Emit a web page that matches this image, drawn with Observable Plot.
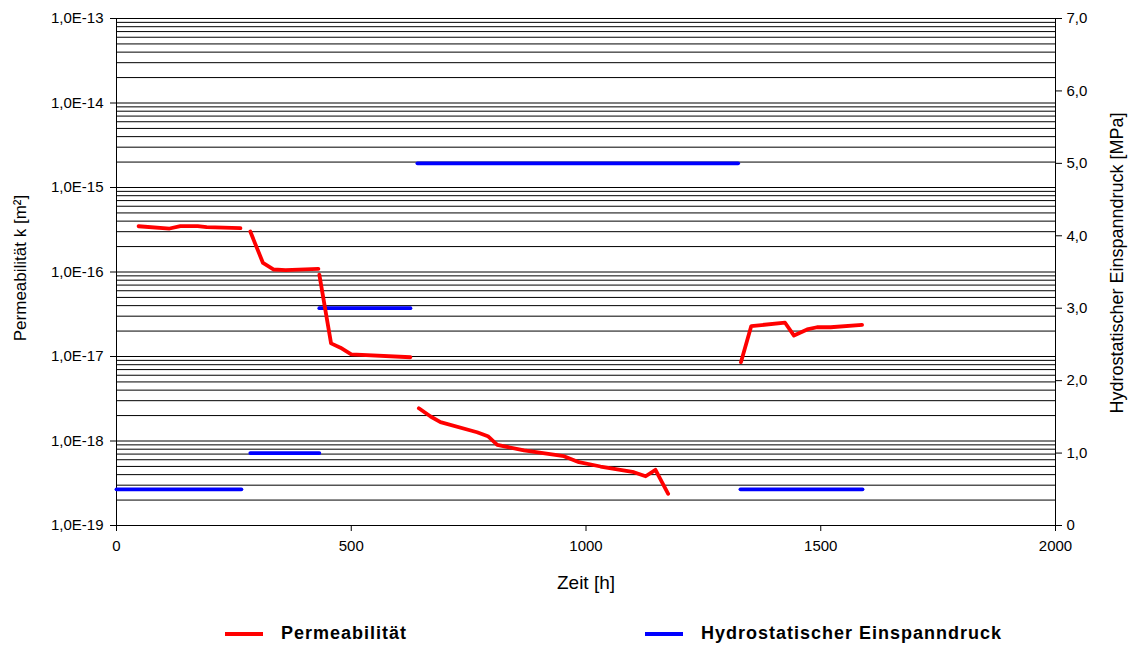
<!DOCTYPE html>
<html>
<head>
<meta charset="utf-8">
<script src="https://cdn.jsdelivr.net/npm/d3@7"></script>
<script src="https://cdn.jsdelivr.net/npm/@observablehq/plot@0.6"></script>
<style>
  body { margin: 0; background: #fff; font-family: "Liberation Sans", Arial, sans-serif; }
  #legend { position: relative; width: 1132px; height: 37px; }
  .item { position: absolute; top: 13px; display: flex; align-items: center; font-weight: bold; font-size: 18px; letter-spacing: 1px; color: #000; }
  .swatch { width: 38px; height: 4px; margin-right: 18px; }
</style>
</head>
<body>
<div id="chart"></div>
<div id="legend">
  <div class="item" style="left:225px"><span class="swatch" style="background:#ff0000"></span>Permeabilität</div>
  <div class="item" style="left:645px"><span class="swatch" style="background:#0000ff"></span>Hydrostatischer Einspanndruck</div>
</div>
<script>
// Permeability k [m²] over time, split into test stages (segment id)
const permHours = [47, 113, 136, 173, 192, 264,
                   285, 312, 335, 360, 430,
                   432, 457, 477, 500, 626,
                   644, 669, 690, 768, 791, 811, 868, 953, 985, 1031, 1102, 1127, 1148, 1175,
                   1330, 1352, 1424, 1443, 1471, 1492, 1521, 1588];
const permK = [3.48e-16, 3.27e-16, 3.5e-16, 3.5e-16, 3.39e-16, 3.3e-16,
               3.01e-16, 1.28e-16, 1.07e-16, 1.05e-16, 1.09e-16,
               9.3e-17, 1.43e-17, 1.27e-17, 1.06e-17, 9.8e-18,
               2.44e-18, 1.95e-18, 1.67e-18, 1.27e-18, 1.14e-18, 9.0e-19, 7.73e-19, 6.61e-19, 5.61e-19, 4.99e-19, 4.27e-19, 3.83e-19, 4.56e-19, 2.37e-19,
               8.57e-18, 2.29e-17, 2.51e-17, 1.77e-17, 2.09e-17, 2.22e-17, 2.22e-17, 2.37e-17];
const permSeg = [1, 1, 1, 1, 1, 1,
                 2, 2, 2, 2, 2,
                 3, 3, 3, 3, 3,
                 4, 4, 4, 4, 4, 4, 4, 4, 4, 4, 4, 4, 4, 4,
                 5, 5, 5, 5, 5, 5, 5, 5];

// Hydrostatic confining pressure [MPa]
const pressHours = [0, 266, 285, 432, 432, 626, 641, 1324, 1329, 1589];
const pressMPa = [0.5, 0.5, 1.0, 1.0, 3.0, 3.0, 5.0, 5.0, 0.5, 0.5];
const pressSeg = [1, 1, 2, 2, 3, 3, 4, 4, 5, 5];

// Axis ticks
const xTicks = [0, 500, 1000, 1500, 2000];
const kDecades = [-19, -18, -17, -16, -15, -14, -13];
const pTicks = [0, 1, 2, 3, 4, 5, 6, 7];

// The right axis (0–7 MPa) shares the log frame: map pressure onto the k scale
const kMinExp = -19, kMaxExp = -13, pMax = 7;
const pToK = p => Math.pow(10, kMinExp + p * (kMaxExp - kMinExp) / pMax);

const perm = permHours.map((h, i) => ({h, k: permK[i], seg: permSeg[i]}));
const press = pressHours.map((h, i) => ({h, k: pToK(pressMPa[i]), seg: pressSeg[i]}));

const gridValues = [];
for (let e = kMinExp; e < kMaxExp; e++) for (let m = 1; m <= 9; m++) gridValues.push(m * Math.pow(10, e));
gridValues.push(Math.pow(10, kMaxExp));

const fmtK = k => "1,0E" + Math.round(Math.log10(k));
const fmtP = p => p === 0 ? "0" : p.toFixed(1).replace(".", ",");

const chart = Plot.plot({
  width: 1132,
  height: 610,
  marginLeft: 116,
  marginRight: 77,
  marginTop: 18,
  marginBottom: 85,
  style: {fontFamily: "'Liberation Sans', Arial, sans-serif", fontSize: "15px", color: "#000", background: "#fff"},
  x: {domain: [0, 2000]},
  y: {type: "log", domain: [1e-19, 1e-13]},
  marks: [
    Plot.ruleY(gridValues, {stroke: "#000", strokeWidth: 1}),
    Plot.frame({stroke: "#000"}),
    Plot.axisX(xTicks, {tickSize: 6, tickPadding: 9, tickFormat: d => String(d), label: null, fontSize: 15}),
    Plot.axisY(kDecades.map(e => Math.pow(10, e)), {anchor: "left", tickSize: 6, tickPadding: 7, tickFormat: fmtK, label: null, fontSize: 15}),
    Plot.axisY(pTicks.map(pToK), {anchor: "right", tickSize: 6, tickFormat: () => "", label: null}),
    Plot.text(pTicks, {y: pToK, frameAnchor: "right", dx: 11, textAnchor: "start", text: fmtP, fontSize: 15}),
    Plot.line(press, {x: "h", y: "k", z: "seg", stroke: "#0000ff", strokeWidth: 3.8}),
    Plot.line(perm, {x: "h", y: "k", z: "seg", stroke: "#ff0000", strokeWidth: 3.8, strokeLinejoin: "round"}),
    Plot.text(["Zeit [h]"], {frameAnchor: "bottom", dy: 63, fontSize: 19, textAnchor: "middle", letterSpacing: 0.5}),
    Plot.text(["Permeabilität k [m²]"], {frameAnchor: "left", rotate: -90, dx: -96, dy: -4, textAnchor: "middle", fontSize: 17}),
    Plot.text(["Hydrostatischer Einspanndruck [MPa]"], {frameAnchor: "right", rotate: -90, dx: 62, dy: -9, textAnchor: "middle", fontSize: 18, letterSpacing: 0.4})
  ]
});
document.getElementById("chart").appendChild(chart);
</script>
</body>
</html>
